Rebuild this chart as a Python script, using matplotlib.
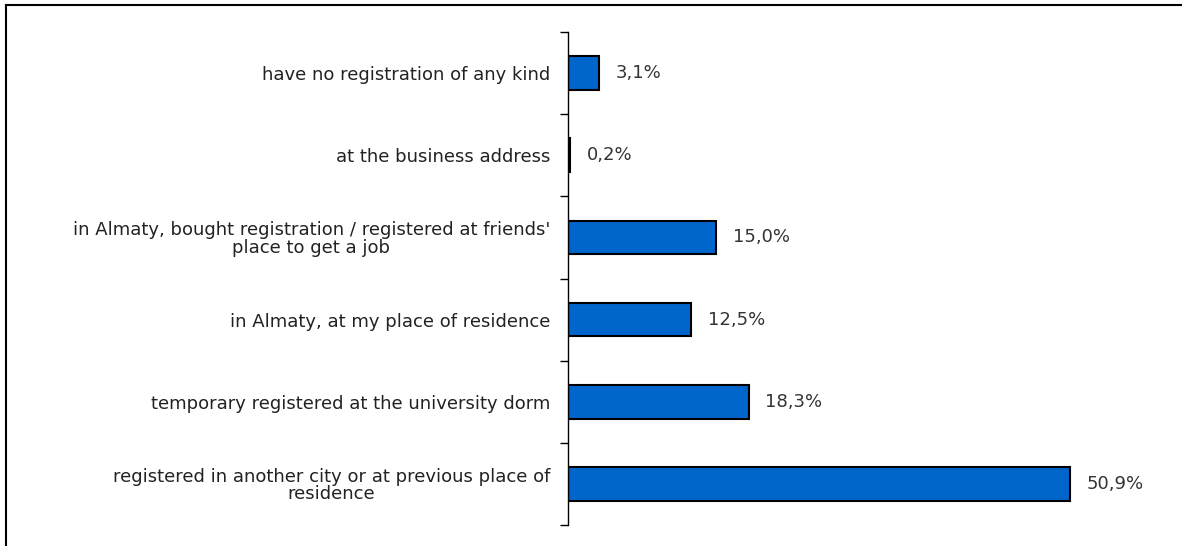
import matplotlib.pyplot as plt
from matplotlib.lines import Line2D

plt.rcParams['font.family'] = ['DejaVu Sans']

# categories top to bottom as in the picture
categories = [
    'have no registration of any kind',
    'at the business address',
    "in Almaty, bought registration / registered at friends'\nplace to get a job",
    'in Almaty, at my place of residence',
    'temporary registered at the university dorm',
    'registered in another city or at previous place of\nresidence',
]
values = [3.1, 0.2, 15.0, 12.5, 18.3, 50.9]
value_labels = ['3,1%', '0,2%', '15,0%', '12,5%', '18,3%', '50,9%']

fig = plt.figure(figsize=(11.82, 5.46), dpi=100)
ax = fig.add_axes([568 / 1182, 1 - 525 / 546, (1160 - 568) / 1182, (525 - 32) / 546])

y = list(range(len(categories)))
ax.barh(y, values, height=0.41, color='#0066CC', edgecolor='black', linewidth=1.5)

for yi, v, lab in zip(y, values, value_labels):
    ax.text(v + 1.7, yi, lab, va='center', ha='left', fontsize=13, color='#333333')

ax.set_xlim(0, 60)
ax.set_ylim(len(categories) - 0.5, -0.5)

# category labels placed at centers, ticks between categories
ax.set_yticks(y)
ax.set_yticklabels(categories, fontsize=13, color='#222222', ha='right')
ax.tick_params(axis='y', which='major', length=0, pad=13)
ax.set_yticks([i - 0.5 for i in range(len(categories) + 1)], minor=True)
ax.tick_params(axis='y', which='minor', length=6, width=1, direction='out')
for lbl in ax.get_yticklabels():
    lbl.set_multialignment('center')
    lbl.set_linespacing(0.95)

ax.set_xticks([])
for s in ['top', 'right', 'bottom']:
    ax.spines[s].set_visible(False)
ax.spines['left'].set_linewidth(1)

# outer frame lines (top and left)
fig.add_artist(Line2D([6 / 1182, 1], [1 - 5 / 546, 1 - 5 / 546], color='black', linewidth=1.5))
fig.add_artist(Line2D([6 / 1182, 6 / 1182], [0, 1 - 5 / 546], color='black', linewidth=1.5))

fig.savefig('out.png', dpi=100)
